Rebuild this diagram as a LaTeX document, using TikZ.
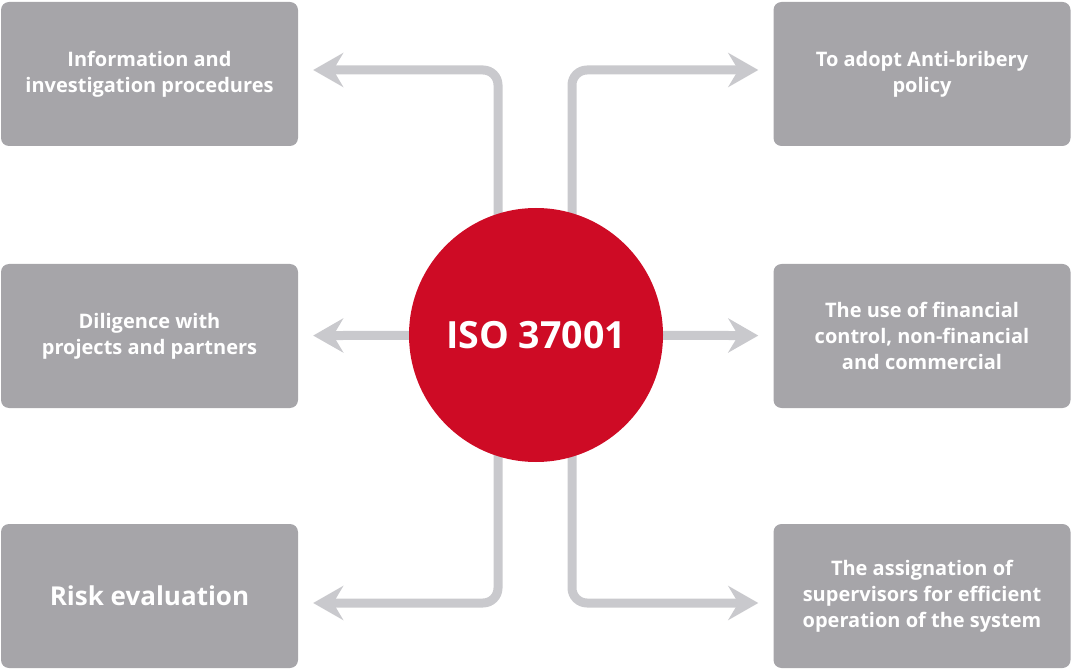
\documentclass[tikz,border=0pt]{standalone}
\usepackage{fontspec}
\setmainfont{Open Sans}
\usepackage{tikz}
\usetikzlibrary {arrows.meta}
\usetikzlibrary {backgrounds}

\definecolor{boxgray}{HTML}{A6A5A9}
\definecolor{arrowgray}{HTML}{C9C9CD}
\definecolor{isored}{HTML}{CE0B25}

\begin{document}
\begin{tikzpicture}[x=1pt, y=-1pt,
  item/.style={rectangle, rounded corners=8pt, fill=boxgray, text=white,
    minimum width=297pt, minimum height=144pt, align=center,
    font=\fontsize{20}{26}\selectfont\bfseries},
  link/.style={draw=arrowgray, line width=9pt, rounded corners=15pt,
    -{Stealth[length=30pt, width=34pt, inset=10pt]}, shorten >=15pt}]
\useasboundingbox (0,0) rectangle (1072,671);

\node [circle, fill=isored, text=white, minimum size=254pt, inner sep=0pt,
  font=\fontsize{37.5}{44}\selectfont\bfseries] (iso) at (536,335) {ISO 37001};

%left
\node [item] (info) at (149.5,74) {Information and\\investigation procedures};
\node [item] (dilig) at (149.5,336) {Diligence with\\projects and partners};
\node [item, font=\fontsize{26}{32}\selectfont\bfseries] (risk) at (149.5,596) {Risk evaluation};

%right
\node [item] (adopt) at (922,74) {To adopt Anti-bribery\\policy};
\node [item] (fin) at (922,336) {The use of financial\\control, non-financial\\and commercial};
\node [item] (assign) at (922,596) {The assignation of\\supervisors for efficient\\operation of the system};

\begin{scope}[on background layer]
\draw [link] ([xshift=-38pt]iso.center) |- ([yshift=4pt]info.east);
\draw [link] (iso) -- (dilig);
\draw [link] ([xshift=-38pt]iso.center) |- ([yshift=-7pt]risk.east);
\draw [link] ([xshift=36pt]iso.center) |- ([yshift=4pt]adopt.west);
\draw [link] (iso) -- (fin);
\draw [link] ([xshift=36pt]iso.center) |- ([yshift=-7pt]assign.west);
\end{scope}

\end{tikzpicture}
\end{document}
